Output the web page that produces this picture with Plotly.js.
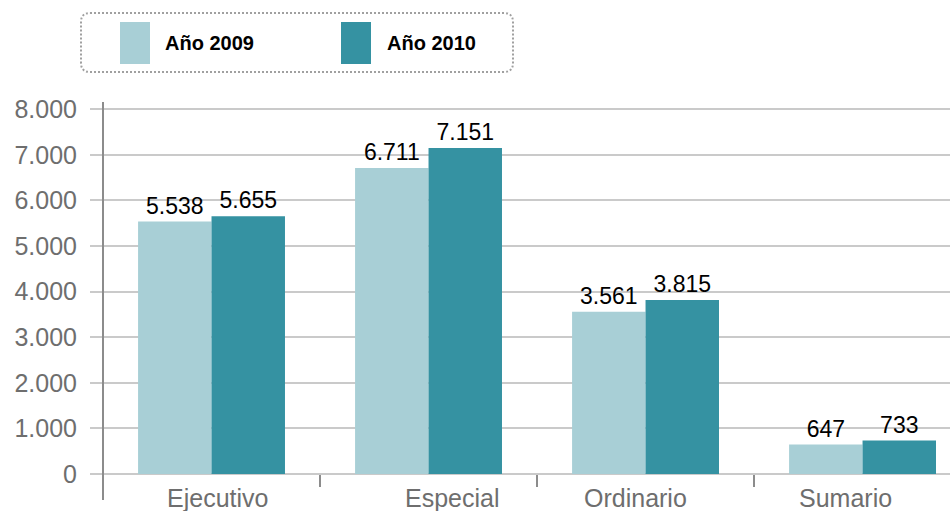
<!DOCTYPE html>
<html>
<head>
<meta charset="utf-8">
<script src="https://cdn.plot.ly/plotly-3.0.1.min.js"></script>
<style>html,body{margin:0;padding:0;background:#fff;}#chart{width:950px;height:511px;}</style>
</head>
<body>
<div id="chart"></div>
<script>
const categories = ['Ejecutivo', 'Especial', 'Ordinario', 'Sumario'];
const seriesNames = ['Año 2009', 'Año 2010'];
const values2009 = [5538, 6711, 3561, 647];
const values2010 = [5655, 7151, 3815, 733];
const yTickVals = [0, 1000, 2000, 3000, 4000, 5000, 6000, 7000, 8000];

const colors = ['#a8cfd6', '#3592a2'];
const FONT = 'Liberation Sans, Arial, Helvetica, sans-serif';

const allValues = [values2009, values2010];
const traces = allValues.map((vals, i) => ({
  type: 'bar',
  x: categories,
  y: vals,
  name: seriesNames[i],
  marker: {color: colors[i], line: {width: 0}},
  texttemplate: '%{y:,}',
  textposition: 'outside',
  constraintext: 'none',
  cliponaxis: false,
  textfont: {family: FONT, size: 23, color: '#000000'},
  hoverinfo: 'skip',
  showlegend: false
}));

// legend drawn with shapes + annotations
const PX = (p) => (p - 90) / 860;      // pixel x -> paper
const PY = (p) => (474 - p) / 372;     // pixel y -> paper

function roundedRect(x0, y0, x1, y1, r) {
  const a = PX(x0), b = PX(x1), c = PY(y0), d = PY(y1);
  const rx = r / 860, ry = r / 372;
  return `M ${a + rx} ${c} L ${b - rx} ${c} Q ${b} ${c} ${b} ${c - ry} L ${b} ${d + ry} Q ${b} ${d} ${b - rx} ${d} L ${a + rx} ${d} Q ${a} ${d} ${a} ${d + ry} L ${a} ${c - ry} Q ${a} ${c} ${a + rx} ${c} Z`;
}

const shapes = [
  {type: 'path', xref: 'paper', yref: 'paper', path: roundedRect(81, 13, 513, 72, 9),
   line: {color: '#a0a0a0', width: 2, dash: '2px,2px'}, fillcolor: 'rgba(0,0,0,0)'},
  // y axis line extending below zero
  {type: 'line', xref: 'paper', yref: 'paper', x0: PX(103), x1: PX(103), y0: PY(102), y1: PY(500),
   line: {color: '#8c8c8c', width: 2}, layer: 'above'}
];
const swatchX = [120, 341];
const textX = [163, 385];
const annotations = [];
seriesNames.forEach((name, i) => {
  shapes.push({type: 'rect', xref: 'paper', yref: 'paper',
    x0: PX(swatchX[i]), x1: PX(swatchX[i] + 30), y0: PY(22), y1: PY(64),
    fillcolor: colors[i], line: {width: 0}});
  annotations.push({xref: 'paper', yref: 'paper', x: PX(textX[i]), y: PY(43),
    xanchor: 'left', yanchor: 'middle', showarrow: false, text: name,
    font: {family: FONT, size: 20, color: '#000000', weight: 'bold'}});
});

// category labels (slightly offset from group centres, as in the original)
const labelShift = [6, 24, -10, -17];
categories.forEach((c, i) => {
  annotations.push({xref: 'x', yref: 'paper', x: c, y: PY(498), xshift: labelShift[i],
    xanchor: 'center', yanchor: 'middle', showarrow: false, text: c,
    font: {family: FONT, size: 25, color: '#6e6e6e'}});
});

const layout = {
  width: 950, height: 511,
  margin: {l: 90, r: 0, t: 102, b: 37, pad: 0},
  paper_bgcolor: '#ffffff', plot_bgcolor: '#ffffff',
  separators: ',.',
  barmode: 'group', bargap: 0.323, bargroupgap: 0,
  showlegend: false,
  xaxis: {
    type: 'category', range: [-0.56, 3.403], fixedrange: true,
    showgrid: false, zeroline: false, showline: false, showticklabels: false,
    ticks: 'outside', tickson: 'boundaries', ticklen: 12, tickwidth: 2, tickcolor: '#8c8c8c'
  },
  yaxis: {
    range: [0, 8160], tickvals: yTickVals, tickformat: ',',
    showgrid: true, gridcolor: '#cacaca', gridwidth: 2,
    zeroline: true, zerolinecolor: '#cacaca', zerolinewidth: 2,
    showline: false, ticks: '', ticklabelstandoff: 12,
    tickfont: {family: FONT, size: 25, color: '#6e6e6e'}
  },
  shapes: shapes,
  annotations: annotations,
  font: {family: FONT}
};

Plotly.newPlot('chart', traces, layout, {displayModeBar: false, staticPlot: true});
</script>
</body>
</html>
